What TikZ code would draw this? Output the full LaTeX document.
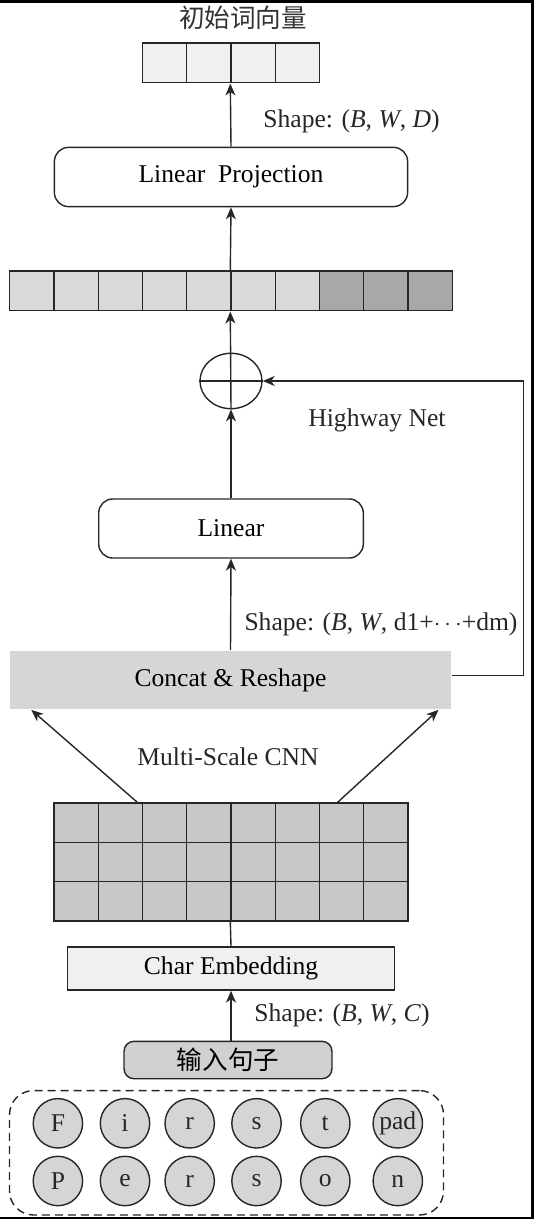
\documentclass[tikz,border=0pt]{standalone}
\usepackage{fontspec}
\setmainfont{Liberation Serif}
\newfontfamily\cjk{Noto Sans CJK SC}
\usetikzlibrary{arrows.meta,shapes.geometric}

\begin{document}
\begin{tikzpicture}[
  x=0.5pt, y=-0.5pt,
  font=\fontsize{12.8}{15}\selectfont,
  line width=0.7pt, draw=black!85,
  cell/.style={draw=black!85, minimum width=22.125pt, minimum height=19.8pt, inner sep=0},
  block/.style={draw=black!85, rounded corners=7pt, fill=white, inner sep=0},
  flatbox/.style={inner sep=0, fill=#1},
  lbl/.style={text=black!85, inner sep=0},
  cjklbl/.style={text=black!80, inner sep=0, font=\fontsize{12.8}{15}\selectfont\cjk},
  charc/.style={circle, draw=black!85, fill=gray!33, minimum size=24.7pt, inner sep=0, text=black!85},
  >={Stealth[length=6pt,width=5pt,inset=1.8pt]}
]
% frame of the page
\useasboundingbox (0,0) rectangle (534,1219);
\fill[black] (0,0) rectangle (534,3);
\fill[black] (531.3,0) rectangle (534,1219);
\fill[black] (0,1217) rectangle (534,1219);

% output word vectors
\node[cjklbl] (title) at (243,18) {初始词向量};
\foreach \i in {0,...,3}
  \node[cell, fill=gray!12] (o\i) at ({142.5+22.125+44.25*\i},63) {};
\node[lbl] (shape1) at (351.5,121) {Shape: (\textit{B}, \textit{W}, \textit{D})};
\node[block, minimum width=176.6pt, minimum height=29.6pt] (lp) at (231,177) {Linear\ \ Projection};

% concatenated vector
\foreach \i in {0,...,6}
  \node[cell, fill=gray!30] (w\i) at ({9.75+22.125+44.25*\i},291) {};
\foreach \i in {7,8,9}
  \node[cell, fill=gray!68] (w\i) at ({9.75+22.125+44.25*\i},291) {};

% highway
\node[ellipse, draw=black!85, minimum width=31pt, minimum height=27.7pt, inner sep=0] (plus) at (231,381) {};
\draw (plus.west) -- (plus.east);
\node[lbl] (hw) at (377,420) {Highway Net};
\node[block, minimum width=132.3pt, minimum height=29.5pt] (lin) at (231,528.5) {Linear};
\node[lbl] (shape2) at (381,624.4) {Shape: (\textit{B}, \textit{W}, d1+$\cdots$+dm)};
\node[flatbox=gray!32, minimum width=220.5pt, minimum height=29.15pt] (concat) at (230.5,680) {Concat \& Reshape};
\coordinate (hwturn) at (523.5,381);

% CNN
\node[lbl] (cnn) at (228,757) {Multi-Scale CNN};
\foreach \j in {0,1,2}
  \foreach \i in {0,...,7}
    \node[cell, fill=gray!43, minimum height=19.67pt] (g-\j-\i) at ({54+22.125+44.25*\i},{803+19.67+39.33*\j}) {};
\node[draw=black!85, fill=gray!12, minimum width=163.7pt, minimum height=21.5pt, inner sep=0] (emb) at (231,968.5) {Char Embedding};
\node[lbl] (shape3) at (342,1015) {Shape: (\textit{B}, \textit{W}, \textit{C})};
\node[block, fill=gray!37, rounded corners=5pt, minimum width=104pt, minimum height=18.7pt, font=\fontsize{12.8}{15}\selectfont\cjk] (sent) at (228,1060) {输入句子};

% characters
\node[draw=black!85, dashed, dash pattern=on 4pt off 2.5pt, rounded corners=12pt, minimum width=217pt, minimum height=62.2pt] (chars) at (226.5,1152.8) {};
\foreach \x/\c [count=\k] in {57.9/F, 125/i, 189.7/r, 256.5/s, 325.3/t, 397.8/pad}
  \node[charc] (a\k) at (\x,1123.3) {\c};
\foreach \x/\c [count=\k] in {57.9/P, 125/e, 189.7/r, 256.5/s, 325.3/o, 397.8/n}
  \node[charc] (b\k) at (\x,1181) {\c};

% connectors
\draw[->] (lp.north) -- (o2.south west);
\draw[->] (w5.north west) -- (lp.south);
\draw[->] (plus.south) -- (w5.south west);
\draw[->] (lin.north) -- (plus.south);
\draw[->] (concat.north) -- (lin.south);
\draw[->] ([yshift=2.25pt]concat.east) -| (hwturn) -- (plus.east);
\draw[->] ([xshift=-2.25pt]g-0-2.north west) -- ([xshift=11pt]concat.south west);
\draw[->] ([xshift=-2pt]g-0-6.north) -- ([xshift=-6.6pt]concat.south east);
\draw (emb.north) -- (g-2-4.south west);
\draw[->] (sent.north -| emb.south) -- (emb.south);
\end{tikzpicture}
\end{document}
